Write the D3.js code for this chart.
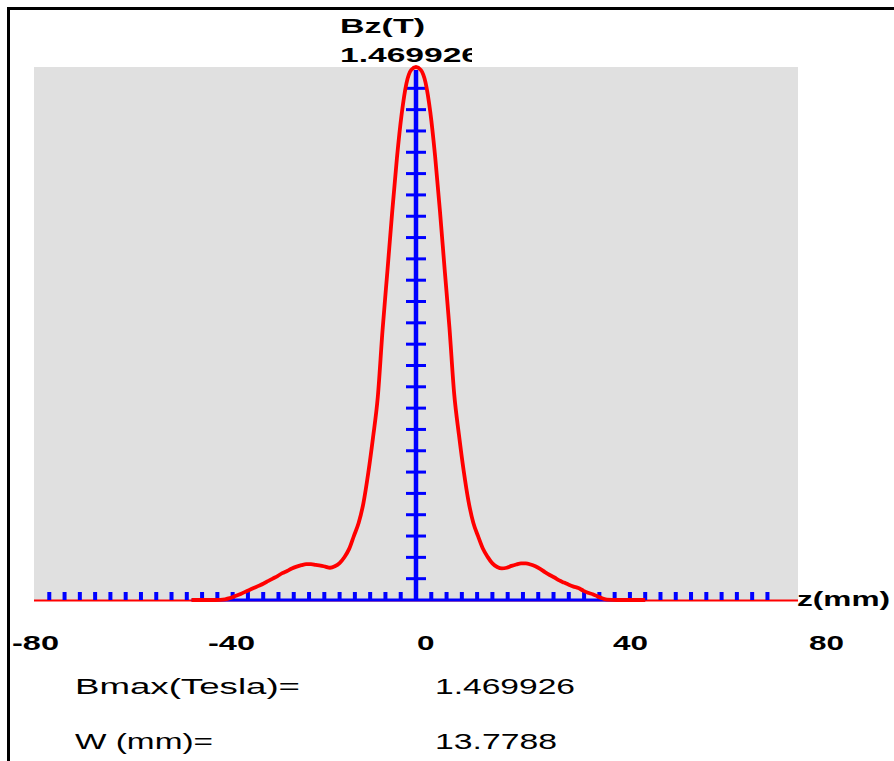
<!DOCTYPE html>
<html>
<head>
<meta charset="utf-8">
<script src="https://cdn.jsdelivr.net/npm/d3@7/dist/d3.min.js"></script>
<style>
  html, body { margin: 0; padding: 0; background: #ffffff; }
  svg { display: block; }
</style>
</head>
<body>
<svg id="chart" width="894" height="761"></svg>
<script>
// ---------- data ----------
const zValues = [-47, -44, -42, -40, -39, -38, -37, -36, -35, -34, -33, -32, -31, -30, -29, -28, -27, -26, -25, -24,
  -23, -22, -21, -20, -19, -18, -17, -16, -15, -14, -13, -12, -11, -10, -9, -8, -7, -6, -5, -4, -3, -2, -1,
  0, 1, 2, 3, 4, 5, 6, 7, 8, 9, 10, 11, 12, 13, 14, 15, 16, 17, 18, 19, 20, 21, 22, 23, 24, 25, 26, 27, 28,
  29, 30, 31, 32, 33, 34, 35, 36, 37, 38, 39, 40, 42, 44, 48];
const bValues = [0, 0, 0, 0.002, 0.005, 0.010, 0.015, 0.021, 0.027, 0.033, 0.039, 0.045, 0.052, 0.059, 0.066, 0.074, 0.080, 0.087, 0.092, 0.096,
  0.099, 0.099, 0.097, 0.095, 0.092, 0.089, 0.093, 0.102, 0.118, 0.141, 0.177, 0.213, 0.268, 0.350, 0.448, 0.560, 0.745, 0.905, 1.068, 1.218, 1.340, 1.425, 1.462,
  1.469926, 1.462, 1.427, 1.345, 1.224, 1.075, 0.912, 0.752, 0.568, 0.455, 0.355, 0.272, 0.213, 0.176, 0.142, 0.119, 0.101, 0.091, 0.087, 0.089, 0.094, 0.098, 0.101, 0.101, 0.098, 0.093, 0.086, 0.077, 0.069,
  0.062, 0.054, 0.048, 0.042, 0.037, 0.033, 0.026, 0.020, 0.016, 0.010, 0.005, 0.001, 0, 0, 0];
const zDomain = [-80, 80];
const xTickLabels = [-80, -40, 0, 40, 80];
const xTickCount = 48;      // minor ticks every 3.2 mm
const xTickStep = 3.2;
const yTickCount = 24;      // ticks at k/25 of Bmax
const yTickDivisions = 25;
const bMax = 1.469926;
const wValue = 13.7788;
const yTitle = "Bz(T)";
const xTitle = "z(mm)";
const infoLabels = ["Bmax(Tesla)=", "W (mm)="];
const infoValues = ["1.469926", "13.7788"];

// ---------- drawing ----------
const svg = d3.select("#chart");
const x = d3.scaleLinear().domain(zDomain).range([34, 798]);
const y = d3.scaleLinear().domain([0, bMax]).range([600, 67]);
const labelX = d3.scaleLinear().domain(zDomain).range([25, 809]);
const boldFont = "'Liberation Sans', Arial, sans-serif";

// frame (top and left border)
svg.append("path")
  .attr("d", "M8.5,761V8.5H894")
  .attr("fill", "none").attr("stroke", "#000").attr("stroke-width", 3);

// plot background
svg.append("rect")
  .attr("x", x(zDomain[0])).attr("y", y(bMax))
  .attr("width", x(zDomain[1]) - x(zDomain[0]))
  .attr("height", y(0) - y(bMax))
  .attr("fill", "#e0e0e0");

// thin red axis line across the whole range
svg.append("line")
  .attr("x1", x(zDomain[0])).attr("x2", x(zDomain[1]))
  .attr("y1", y(0) + 0.5).attr("y2", y(0) + 0.5)
  .attr("stroke", "#ff0000").attr("stroke-width", 2);

// blue baseline under the curve span
svg.append("line")
  .attr("x1", x(zValues[0])).attr("x2", x(zValues[zValues.length - 1]))
  .attr("y1", y(0)).attr("y2", y(0))
  .attr("stroke", "#0000ff").attr("stroke-width", 3);

// horizontal minor ticks
const xTicks = d3.range(1, xTickCount + 1).map(i => zDomain[0] + xTickStep * i);
svg.append("g").selectAll("line").data(xTicks).join("line")
  .attr("x1", d => x(d)).attr("x2", d => x(d))
  .attr("y1", y(0)).attr("y2", y(0) - 8)
  .attr("stroke", "#0000ff").attr("stroke-width", 4);

// vertical axis
svg.append("line")
  .attr("x1", x(0)).attr("x2", x(0))
  .attr("y1", y(0)).attr("y2", y(bMax) + 3)
  .attr("stroke", "#0000ff").attr("stroke-width", 4.5);

const yTicks = d3.range(1, yTickCount + 1).map(k => bMax * k / yTickDivisions);
svg.append("g").selectAll("line").data(yTicks).join("line")
  .attr("x1", x(0) - 10).attr("x2", x(0) + 10)
  .attr("y1", d => y(d)).attr("y2", d => y(d))
  .attr("stroke", "#0000ff").attr("stroke-width", 3);

// the field curve
const pts = zValues.map((z, i) => ({ z, b: bValues[i] }));
svg.append("path")
  .datum(pts)
  .attr("d", d3.line().x(d => x(d.z)).y(d => y(d.b)).curve(d3.curveMonotoneX))
  .attr("fill", "none").attr("stroke", "#ff0000").attr("stroke-width", 3.8)
  .attr("stroke-linejoin", "round");

// x tick labels
svg.append("g").selectAll("text").data(xTickLabels).join("text")
  .attr("x", d => labelX(d) - (d < 0 ? 13 : 0))
  .attr("y", 650)
  .attr("font-family", boldFont).attr("font-weight", "bold").attr("font-size", 21)
  .attr("textLength", d => String(Math.abs(d)).length * 17.5 + (d < 0 ? 12 : 0))
  .attr("lengthAdjust", "spacingAndGlyphs")
  .attr("fill", "#000")
  .text(d => d < 0 ? "-" + Math.abs(d) : String(d));

// x title
svg.append("text")
  .attr("x", 797).attr("y", 606)
  .attr("font-family", boldFont).attr("font-weight", "bold").attr("font-size", 20)
  .attr("textLength", 93).attr("lengthAdjust", "spacingAndGlyphs")
  .text(xTitle);

// y title and max value
svg.append("text")
  .attr("x", 340).attr("y", 33)
  .attr("font-family", boldFont).attr("font-weight", "bold").attr("font-size", 21)
  .attr("textLength", 85).attr("lengthAdjust", "spacingAndGlyphs")
  .text(yTitle);

svg.append("clipPath").attr("id", "titleClip")
  .append("rect").attr("x", 330).attr("y", 36).attr("width", 142).attr("height", 30);
svg.append("text")
  .attr("clip-path", "url(#titleClip)")
  .attr("x", 340).attr("y", 62)
  .attr("font-family", boldFont).attr("font-weight", "bold").attr("font-size", 21)
  .attr("textLength", 140).attr("lengthAdjust", "spacingAndGlyphs")
  .text(bMax.toFixed(6));

// info rows
const infoRows = [
  { label: infoLabels[0], value: infoValues[0], lw: 225, vw: 140 },
  { label: infoLabels[1], value: infoValues[1], lw: 138, vw: 122 }
];
infoRows.forEach((r, i) => {
  const by = 694 + i * 55;
  svg.append("text")
    .attr("x", 75).attr("y", by)
    .attr("font-family", boldFont).attr("font-size", 22)
    .attr("textLength", r.lw).attr("lengthAdjust", "spacingAndGlyphs")
    .text(r.label);
  svg.append("text")
    .attr("x", 435).attr("y", by)
    .attr("font-family", boldFont).attr("font-size", 22)
    .attr("textLength", r.vw).attr("lengthAdjust", "spacingAndGlyphs")
    .text(r.value);
});
</script>
</body>
</html>
